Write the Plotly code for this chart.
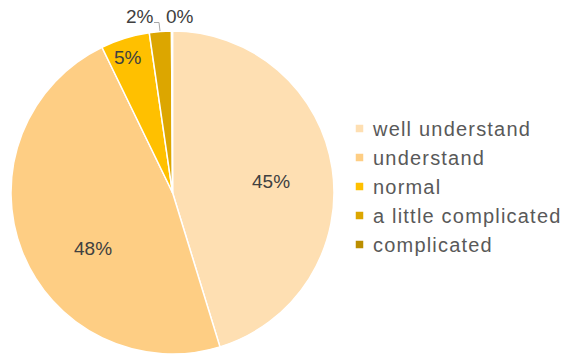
import plotly.graph_objects as go

categories = ["well understand", "understand", "normal", "a little complicated", "complicated"]
values = [45.3, 47.6, 4.9, 2.2, 0.1]
colors = ["#FEDFB2", "#FECE84", "#FFC000", "#DCA600", "#BB8E00"]

W, H = 570, 354
total = sum(values)
pct_labels = [f"{round(v / total * 100)}%" for v in values]

# data-label placement (pixel positions of the label text centres)
label_pos = [(271, 181), (93, 248), (128, 58), (140, 17), (180, 17)]

FONT = "Liberation Sans, Arial, sans-serif"

fig = go.Figure(go.Pie(
    labels=categories,
    values=values,
    textinfo="none",
    sort=False,
    direction="clockwise",
    rotation=0,
    marker=dict(colors=colors, line=dict(color="white", width=1.5)),
    domain=dict(x=[10 / W, 335 / W], y=[0, (H - 31) / H]),
    hoverinfo="label+percent",
))

for txt, (px, py) in zip(pct_labels, label_pos):
    fig.add_annotation(x=px / W, y=1 - py / H, xref="paper", yref="paper", text=txt,
                       showarrow=False, xanchor="center", yanchor="middle",
                       font=dict(family=FONT, size=19, color="#404040"))

# leader line for the "2%" label
fig.add_shape(type="path", xref="paper", yref="paper",
              path=f"M {154/W},{1-22.5/H} L {159/W},{1-22.5/H} L {160/W},{1-31/H}",
              line=dict(color="#A6A6A6", width=1))

fig.update_layout(
    width=W, height=H,
    margin=dict(l=0, r=0, t=0, b=0),
    paper_bgcolor="white",
    plot_bgcolor="white",
    showlegend=True,
    legend=dict(x=333 / W, xanchor="left", y=1 - 186.5 / H, yanchor="middle",
                font=dict(family=FONT, size=20, color="#595959"),
                bgcolor="rgba(0,0,0,0)", traceorder="normal"),
)

post = """
var gd = document.getElementById('{plot_id}');
function spaceLegend(){
  gd.querySelectorAll('.legendtext').forEach(function(e){ e.style.letterSpacing = '1.2px'; });
  gd.querySelectorAll('.legend .scrollbox, .legend [clip-path]').forEach(function(e){ e.removeAttribute('clip-path'); });
  gd.querySelectorAll('.legendpoints path').forEach(function(p){
    p.setAttribute('d', 'M4.5,4.5H-4.5V-4.5H4.5Z');
    p.setAttribute('transform', 'translate(26.5,0)');
  });
}
spaceLegend();
gd.on('plotly_afterplot', spaceLegend);
"""

fig.write_html("out.html", post_script=post)
